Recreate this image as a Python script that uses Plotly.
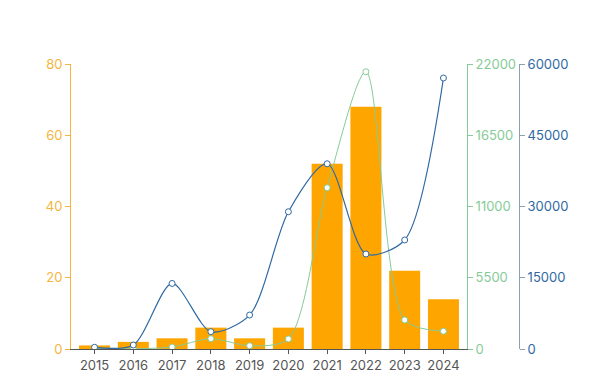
import plotly.graph_objects as go

years = ["2015", "2016", "2017", "2018", "2019", "2020", "2021", "2022", "2023", "2024"]
bar_values = [1, 2, 3, 6, 3, 6, 52, 68, 22, 14]
green_values = [40, 20, 150, 800, 250, 780, 12450, 21400, 2240, 1370]
blue_values = [360, 840, 13800, 3650, 7150, 28900, 39000, 20000, 22950, 57050]

left_ticks = [0, 20, 40, 60, 80]
green_ticks = [0, 5500, 11000, 16500, 22000]
blue_ticks = [0, 15000, 30000, 45000, 60000]

ORANGE = "#FFA500"
ORANGE_AX = "#F5B53F"
GREEN = "#86CB98"
BLUE = "#2F69A3"
BLUE_AX = "#8CA0B3"
FONT = "Inter"

fig = go.Figure()
fig.add_trace(go.Bar(x=years, y=bar_values, marker_color=ORANGE, marker_line_width=0,
                     yaxis="y", name="bar"))
fig.add_trace(go.Scatter(x=years, y=green_values, mode="lines+markers", yaxis="y2",
                         line=dict(color=GREEN, width=1, shape="spline", smoothing=0.8),
                         marker=dict(symbol="circle", size=6, color="white",
                                     line=dict(color=GREEN, width=1)), name="green"))
fig.add_trace(go.Scatter(x=years, y=blue_values, mode="lines+markers", yaxis="y3",
                         line=dict(color=BLUE, width=1.2, shape="spline", smoothing=0.8),
                         marker=dict(symbol="circle", size=6, color="white",
                                     line=dict(color=BLUE, width=1)), name="blue"))

fig.update_layout(
    width=598, height=380,
    margin=dict(l=63, r=50, t=56, b=39),
    paper_bgcolor="white", plot_bgcolor="white",
    showlegend=False,
    bargap=0.2,
    font=dict(family=FONT, size=13),
    xaxis=dict(domain=[0, 0.8165], type="category", showgrid=False, automargin=False,
               showline=True, linecolor="#555555", linewidth=1,
               ticks="outside", ticklen=4, tickcolor="#555555",
               tickfont=dict(color="#555555", size=13, family=FONT)),
    yaxis=dict(range=[0, 80], tickvals=left_ticks, showgrid=False, zeroline=False,
               automargin=False, tickformat="d",
               showline=True, linecolor=ORANGE_AX, linewidth=1,
               ticks="outside", ticklen=5, tickcolor=ORANGE_AX,
               tickfont=dict(color=ORANGE_AX, size=13, family=FONT)),
    yaxis2=dict(range=[0, 22000], tickvals=green_ticks, overlaying="y", side="right",
                anchor="x", showgrid=False, zeroline=False, automargin=False,
                tickformat="d",
                showline=True, linecolor=GREEN, linewidth=1,
                ticks="outside", ticklen=5, tickcolor=GREEN,
                tickfont=dict(color=GREEN, size=13, family=FONT)),
    yaxis3=dict(range=[0, 60000], tickvals=blue_ticks, overlaying="y", side="right",
                anchor="free", position=0.9237, showgrid=False, zeroline=False,
                automargin=False, tickformat="d",
                showline=True, linecolor=BLUE_AX, linewidth=1,
                ticks="outside", ticklen=5, tickcolor=BLUE_AX,
                tickfont=dict(color=BLUE, size=13, family=FONT)),
)

fig.write_html("out.html")
